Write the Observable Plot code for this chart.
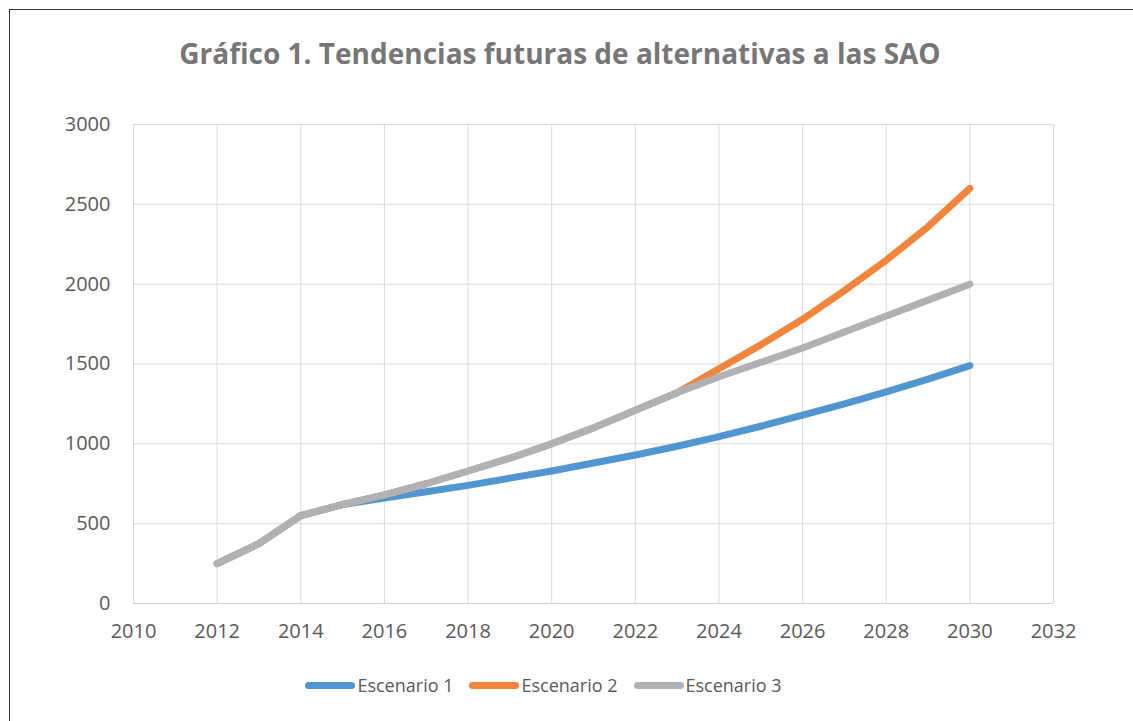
<!DOCTYPE html>
<html>
<head>
<meta charset="utf-8">
<script src="https://cdn.jsdelivr.net/npm/d3@7"></script>
<script src="https://cdn.jsdelivr.net/npm/@observablehq/plot@0.6"></script>
<style>
  html, body { margin: 0; padding: 0; background: #fff; overflow: hidden; width: 1133px; height: 721px; }
  #frame { position: absolute; left: 9px; top: 9px; width: 1200px; height: 800px; border: 1px solid #333; box-sizing: border-box; }
  #title { position: absolute; left: 0; top: 34px; width: 1120px; text-align: center; font-family: "Open Sans", sans-serif; font-weight: bold; font-size: 28px; color: #767676; }
  #chart { position: absolute; left: 0; top: 110px; }
  #legend { position: absolute; left: -23px; top: 673px; width: 1133px; display: flex; justify-content: center; font-family: "Open Sans", sans-serif; font-size: 18px; color: #595959; }
  .item { display: flex; align-items: center; margin: 0 8px; }
  .swatch { width: 50px; height: 7px; border-radius: 4px; margin-right: 2px; }
</style>
</head>
<body>
<div id="frame"></div>
<div id="title">Gráfico 1. Tendencias futuras de alternativas a las SAO</div>
<div id="chart"></div>
<div id="legend"></div>
<script>
const years = [2012,2013,2014,2015,2016,2017,2018,2019,2020,2021,2022,2023,2024,2025,2026,2027,2028,2029,2030];
const escenario1 = [250,375,550,620,660,700,740,785,830,880,930,985,1045,1110,1180,1250,1325,1405,1490];
const escenario2 = [250,375,550,620,680,750,830,910,1000,1100,1210,1320,1470,1620,1780,1960,2150,2360,2600];
const escenario3 = [250,375,550,620,680,750,830,910,1000,1100,1210,1320,1420,1510,1600,1700,1800,1900,2000];
const seriesNames = ["Escenario 1", "Escenario 2", "Escenario 3"];
const seriesColors = ["#5097D2", "#F3843C", "#B0B1B4"];
const xTicks = [2010,2012,2014,2016,2018,2020,2022,2024,2026,2028,2030,2032];
const yTicks = [0,500,1000,1500,2000,2500,3000];

const allSeries = [escenario1, escenario2, escenario3];
const tables = allSeries.map((vals, i) => years.map((yr, j) => ({year: yr, value: vals[j], series: seriesNames[i]})));

const font = "'Open Sans', sans-serif";
const chart = Plot.plot({
  width: 1133,
  height: 545,
  marginLeft: 133,
  marginRight: 80,
  marginTop: 14,
  marginBottom: 52,
  style: { fontFamily: font, fontSize: "20px", color: "#595959", background: "transparent" },
  x: { domain: [2010, 2032] },
  y: { domain: [0, 3000] },
  marks: [
    Plot.gridX(xTicks, { stroke: "#d9d9d9", strokeOpacity: 1, strokeWidth: 1 }),
    Plot.gridY(yTicks, { stroke: "#d9d9d9", strokeOpacity: 1, strokeWidth: 1 }),
    Plot.ruleY([0], { stroke: "#cfcfcf", strokeWidth: 1.2 }),
    Plot.axisX(xTicks, { tickSize: 0, tickPadding: 20, tickFormat: d => String(d), label: null, fill: "#595959", fontSize: 20 }),
    Plot.axisY(yTicks, { tickSize: 0, tickPadding: 23, tickFormat: d => String(d), label: null, fill: "#595959", fontSize: 20 }),
    ...tables.map((t, i) => Plot.line(t, {
      x: "year", y: "value", stroke: seriesColors[i], strokeWidth: 7,
      curve: "linear", strokeLinecap: "round", strokeLinejoin: "round"
    }))
  ]
});
document.getElementById("chart").appendChild(chart);

const legend = document.getElementById("legend");
seriesNames.forEach((name, i) => {
  const item = document.createElement("div");
  item.className = "item";
  const sw = document.createElement("div");
  sw.className = "swatch";
  sw.style.background = seriesColors[i];
  const lab = document.createElement("span");
  lab.textContent = name;
  item.appendChild(sw);
  item.appendChild(lab);
  legend.appendChild(item);
});
</script>
</body>
</html>
